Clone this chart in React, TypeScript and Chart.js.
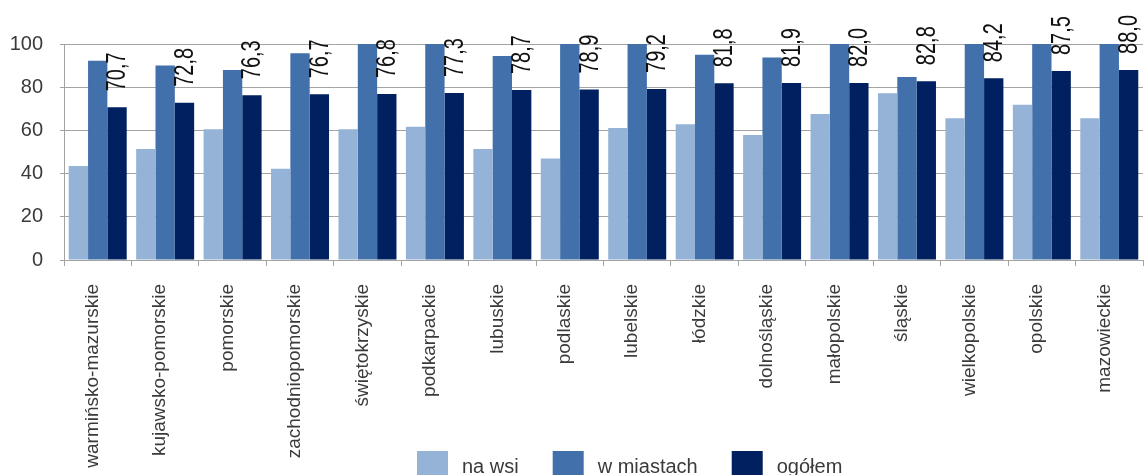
import React, { useEffect, useRef } from "react";
import { Chart, registerables } from "chart.js";

Chart.register(...registerables);

const categories = [
  "warmińsko-mazurskie",
  "kujawsko-pomorskie",
  "pomorskie",
  "zachodniopomorskie",
  "świętokrzyskie",
  "podkarpackie",
  "lubuskie",
  "podlaskie",
  "lubelskie",
  "łódzkie",
  "dolnośląskie",
  "małopolskie",
  "śląskie",
  "wielkopolskie",
  "opolskie",
  "mazowieckie",
];

const naWsi = [43.5, 51.4, 60.5, 42.3, 60.5, 61.7, 51.4, 47.0, 61.1, 62.8, 57.9, 67.6, 77.2, 65.6, 71.9, 65.6];
const wMiastach = [92.3, 90.1, 88.0, 95.7, 100, 100, 94.4, 100, 100, 95.0, 93.8, 100, 84.7, 100, 100, 100];
const ogolem = [70.7, 72.8, 76.3, 76.7, 76.8, 77.3, 78.7, 78.9, 79.2, 81.8, 81.9, 82.0, 82.8, 84.2, 87.5, 88.0];

const seriesNames = ["na wsi", "w miastach", "ogółem"];
const seriesColors = ["#95B3D7", "#4170AA", "#00205F"];
const yTicks = [0, 20, 40, 60, 80, 100];

const FONT = "'Liberation Sans', Arial, sans-serif";
const TEXT = "#3a3a3a";
const GRID = "#a3a3a3";

const valueLabels = {
  id: "valueLabels",
  afterDatasetsDraw(chart: any) {
    const ctx = chart.ctx;
    const meta = chart.getDatasetMeta(2);
    const data = chart.data.datasets[2].data as number[];
    ctx.save();
    ctx.fillStyle = "#111";
    ctx.font = `20px ${FONT}`;
    ctx.textAlign = "left";
    ctx.textBaseline = "middle";
    meta.data.forEach((bar: any, i: number) => {
      const txt = data[i].toFixed(1).replace(".", ",");
      ctx.save();
      ctx.translate(bar.x + 1, bar.y - 16);
      ctx.rotate(-Math.PI / 2);
      ctx.scale(1, 1.35);
      ctx.fillText(txt, 0, 0);
      ctx.restore();
    });
    ctx.restore();
  },
};

const customLegend = {
  id: "customLegend",
  afterDraw(chart: any) {
    const ctx = chart.ctx;
    ctx.save();
    ctx.font = `20px ${FONT}`;
    ctx.textAlign = "left";
    ctx.textBaseline = "alphabetic";
    let x = 417;
    const boxTop = 451;
    const baseline = 473;
    chart.data.datasets.forEach((ds: any) => {
      ctx.fillStyle = ds.backgroundColor;
      ctx.fillRect(x, boxTop, 31, 30);
      x += 31 + 14;
      ctx.fillStyle = TEXT;
      ctx.fillText(ds.label, x, baseline);
      x += ctx.measureText(ds.label).width + 34;
    });
    ctx.restore();
  },
};

export default function App() {
  const ref = useRef<HTMLCanvasElement | null>(null);

  useEffect(() => {
    if (!ref.current) return;
    const series = [naWsi, wMiastach, ogolem];
    const chart = new Chart(ref.current, {
      type: "bar",
      data: {
        labels: categories,
        datasets: series.map((d, i) => ({
          label: seriesNames[i],
          data: d,
          backgroundColor: seriesColors[i],
          borderWidth: 0,
          categoryPercentage: 0.86,
          barPercentage: 1.0,
        })),
      },
      options: {
        animation: false,
        responsive: false,
        maintainAspectRatio: false,
        layout: { padding: { top: 44, right: 2, left: 0, bottom: 0 } },
        plugins: {
          legend: { display: false },
          tooltip: { enabled: false },
        },
        scales: {
          x: {
            offset: true,
            grid: {
              offset: true,
              drawOnChartArea: false,
              drawTicks: true,
              tickLength: 6,
              color: GRID,
            },
            border: { display: true, color: GRID },
            ticks: {
              autoSkip: false,
              minRotation: 90,
              maxRotation: 90,
              padding: 18,
              labelOffset: -5,
              color: TEXT,
              font: { family: FONT, size: 19 },
            },
            afterFit(scale: any) {
              scale.height = 215;
              scale.paddingLeft = 0;
              scale.paddingRight = 0;
            },
          },
          y: {
            min: 0,
            max: 100,
            afterBuildTicks(scale: any) {
              scale.ticks = yTicks.map((v) => ({ value: v }));
            },
            grid: {
              color: GRID,
              drawTicks: true,
              tickLength: 4,
            },
            border: { display: true, color: GRID },
            ticks: {
              padding: 17,
              color: TEXT,
              font: { family: FONT, size: 20 },
            },
            afterFit(scale: any) {
              scale.width = 64;
            },
          },
        },
      },
      plugins: [valueLabels, customLegend],
    });
    return () => chart.destroy();
  }, []);

  return (
    <div style={{ position: "fixed", left: 0, top: 0, width: 1145, height: 475, background: "#fff" }}>
      <canvas ref={ref} width={1145} height={475} style={{ display: "block" }} />
    </div>
  );
}
